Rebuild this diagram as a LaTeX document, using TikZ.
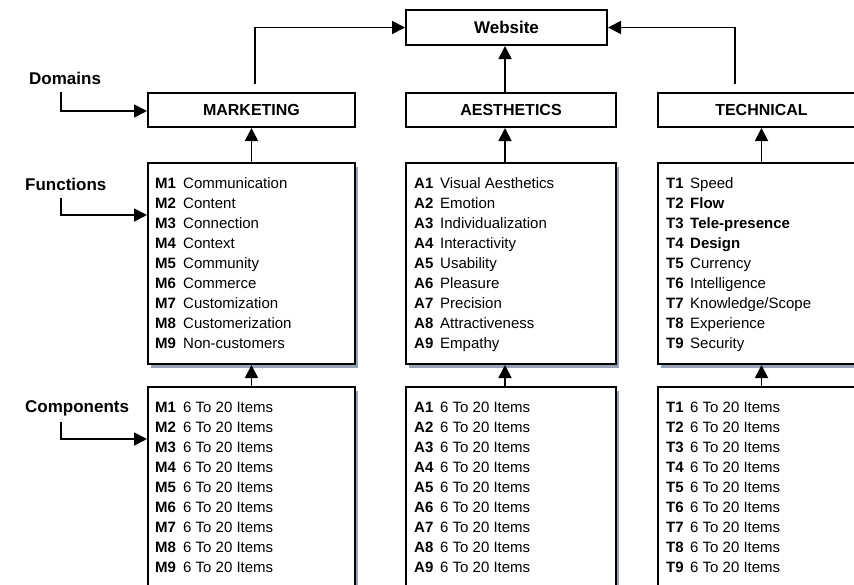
\documentclass[tikz,border=0pt]{standalone}
\usepackage{fontspec}
\setmainfont{Liberation Sans}
\usetikzlibrary{arrows.meta,shadows}
\definecolor{boxshade}{RGB}{150,163,182}

\begin{document}
\begin{tikzpicture}%
	[x=1pt, y=-1pt,
	box/.style={draw=black, line width=2pt, fill=white, inner sep=0pt},
	domainbox/.style={box, minimum height=34pt, font=\fontsize{16}{19}\selectfont\bfseries},
	listbox/.style={box, drop shadow={shadow xshift=3pt, shadow yshift=-4pt, fill=boxshade, opacity=1}},
	levelname/.style={anchor=base west, inner sep=0pt, font=\fontsize{17}{20}\selectfont\bfseries},
	itemcode/.style={anchor=base west, inner sep=0pt, font=\fontsize{15}{18}\selectfont\bfseries},
	itemtext/.style={anchor=base west, inner sep=0pt, font=\fontsize{15}{18}\selectfont},
	link/.style={line width=1.8pt, -{Triangle[length=13pt, width=13pt]}}]
	%
	\useasboundingbox (0,0) rectangle (854,584);
	\clip (0,0) rectangle (854,584);
	%%
	%% Website and the three domains
	%%
	\node[box, minimum width=201pt, minimum height=35pt, font=\fontsize{17}{20}\selectfont\bfseries] (web) at (506.5,27.5) {Website};
	\node[domainbox, minimum width=207pt] (mdom) at (251.5,110) {MARKETING};
	\node[domainbox, minimum width=210pt] (adom) at (511,110) {AESTHETICS};
	\node[domainbox, minimum width=207pt] (tdom) at (761.5,110) {TECHNICAL};
	%%
	%% Function and component boxes
	%%
	\node[listbox, minimum width=207pt, minimum height=201pt] (mfun) at (251.5,263.5) {};
	\node[listbox, minimum width=210pt, minimum height=201pt] (afun) at (511,263.5) {};
	\node[listbox, minimum width=207pt, minimum height=201pt] (tfun) at (761.5,263.5) {};
	\node[listbox, minimum width=207pt, minimum height=213pt] (mcom) at (251.5,493.5) {};
	\node[listbox, minimum width=210pt, minimum height=213pt] (acom) at (511,493.5) {};
	\node[listbox, minimum width=207pt, minimum height=213pt] (tcom) at (761.5,493.5) {};
	%%
	%% Level names on the left
	%%
	\node[levelname] (domains) at (29,84) {Domains};
	\node[levelname] (functions) at (25,190) {Functions};
	\node[levelname] (components) at (25,412) {Components};
	%%
	%% Lists
	%%
	\foreach \name [count=\i] in {Communication,Content,Connection,Context,Community,Commerce,Customization,Customerization,Non-customers}
	{
		\node[itemcode] (mf\i) at (155,168+20*\i) {M\i};
		\node[itemtext] (mft\i) at (183,168+20*\i) {\name};
	}
	\foreach \name [count=\i] in {Visual Aesthetics,Emotion,Individualization,Interactivity,Usability,Pleasure,Precision,Attractiveness,Empathy}
	{
		\node[itemcode] (af\i) at (414,168+20*\i) {A\i};
		\node[itemtext] (aft\i) at (440,168+20*\i) {\name};
	}
	\foreach \name [count=\i] in {Speed,\textbf{Flow},\textbf{Tele-presence},\textbf{Design},Currency,Intelligence,Knowledge/Scope,Experience,Security}
	{
		\node[itemcode] (tf\i) at (666,168+20*\i) {T\i};
		\node[itemtext] (tft\i) at (690,168+20*\i) {\name};
	}
	\foreach \i in {1,...,9}
	{
		\node[itemcode] (mc\i) at (155,392+20*\i) {M\i};
		\node[itemtext] (mct\i) at (183,392+20*\i) {6 To 20 Items};
		\node[itemcode] (ac\i) at (414,392+20*\i) {A\i};
		\node[itemtext] (act\i) at (440,392+20*\i) {6 To 20 Items};
		\node[itemcode] (tc\i) at (666,392+20*\i) {T\i};
		\node[itemtext] (tct\i) at (690,392+20*\i) {6 To 20 Items};
	}
	%%
	%% Connectors
	%%
	\draw[link, shorten <=8pt] ([xshift=3.5pt]mdom.north) |- (web.west);
	\draw[link] ([xshift=-6pt]adom.north) -- ([xshift=-6pt]adom.north |- web.south);
	\draw[link, shorten <=8pt] ([xshift=-26.5pt]tdom.north) |- (web.east);

	\draw[link] (mfun) -- (mdom);
	\draw[link] ([xshift=-6pt]afun.north) -- ([xshift=-6pt]adom.south);
	\draw[link] (tfun) -- (tdom);

	\draw[link] (mcom) -- (mfun);
	\draw[link] ([xshift=-6pt]acom.north) -- ([xshift=-6pt]afun.south);
	\draw[link] (tcom) -- (tfun);

	\draw[link] ([shift={(32pt,-8pt)}]domains.base west) |- ([yshift=-19pt]mdom.north west);
	\draw[link] ([shift={(36pt,-8pt)}]functions.base west) |- ([yshift=-53pt]mfun.north west);
	\draw[link] ([shift={(36pt,-10pt)}]components.base west) |- ([yshift=-53pt]mcom.north west);

\end{tikzpicture}
\end{document}
